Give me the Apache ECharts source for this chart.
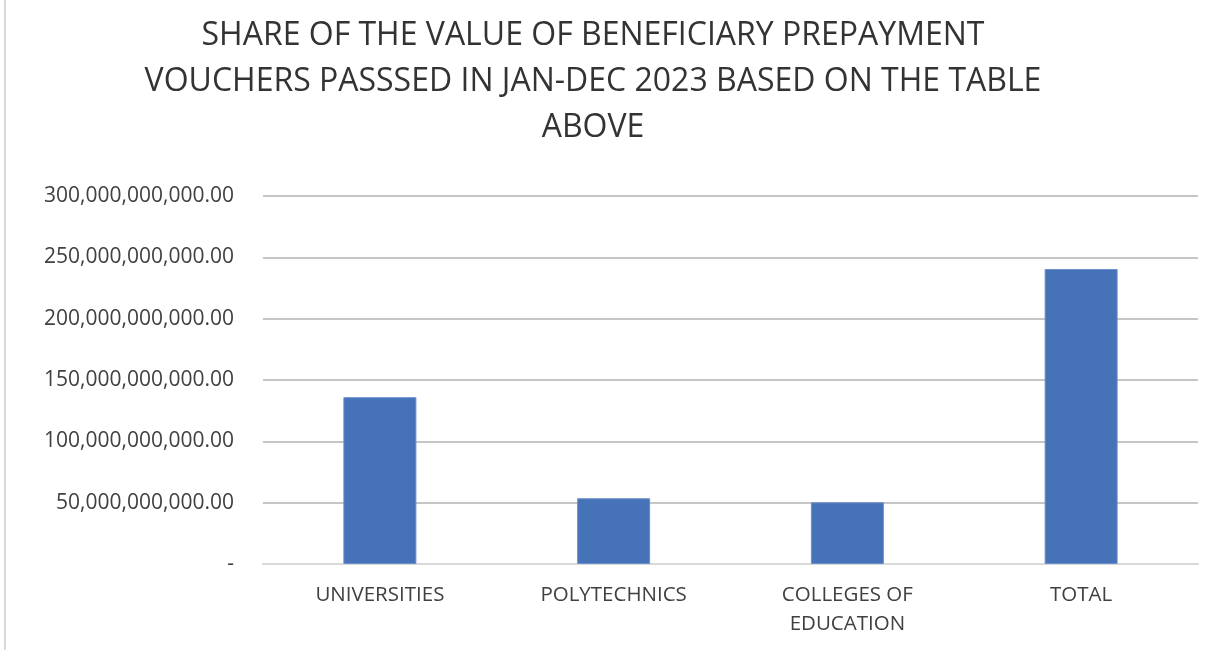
<!DOCTYPE html>
<html>
<head>
<meta charset="utf-8">
<script src="https://cdn.jsdelivr.net/npm/echarts@6/dist/echarts.min.js"></script>
<style>
  html, body { margin: 0; padding: 0; background: #fff; }
  #main { width: 1226px; height: 650px; }
</style>
</head>
<body>
<div id="main"></div>
<script>
 var titleLines = ['SHARE OF THE VALUE OF BENEFICIARY PREPAYMENT',
                   'VOUCHERS PASSSED IN JAN-DEC 2023 BASED ON THE TABLE',
                   'ABOVE'];
 var categories = ['UNIVERSITIES', 'POLYTECHNICS', 'COLLEGES OF\nEDUCATION', 'TOTAL'];
 var values = [136000000000, 53600000000, 50300000000, 240500000000];
 var yTicks = [0, 50000000000, 100000000000, 150000000000, 200000000000, 250000000000, 300000000000];

 // 1234567 -> "1,234,567.00", 0 -> "-"
 function fmt(v) {
     if (v === 0) return '-';
     var s = Math.round(v).toString();
     return s.replace(/\B(?=(\d{3})+(?!\d))/g, ',') + '.00';
 }

 var myChart = echarts.init(document.getElementById('main'), null, { renderer: 'canvas' });

 var option = {
     backgroundColor: '#ffffff',
     animation: false,
     graphic: [
         {
             type: 'text',
             x: 593,
             y: 13,
             style: {
                 text: titleLines.join('\n'),
                 font: '400 32px "Open Sans", sans-serif',
                 fill: '#333333',
                 align: 'center',
                 lineHeight: 46
             }
         },
         {
             type: 'line',
             shape: { x1: 5, y1: 0, x2: 5, y2: 650 },
             style: { stroke: '#d9d9d9', lineWidth: 2 }
         }
     ],
     grid: {
         left: 263,
         right: 28,
         top: 196,
         bottom: 86
     },
     xAxis: {
         type: 'category',
         data: categories,
         axisLine: { lineStyle: { color: '#d9d9d9', width: 2 } },
         axisTick: { show: false },
         axisLabel: {
             color: '#404040',
             fontSize: 20.5,
             fontFamily: 'Open Sans, sans-serif',
             margin: 17,
             lineHeight: 29
         }
     },
     yAxis: {
         type: 'value',
         min: 0,
         max: 300000000000,
         interval: 50000000000,
         axisLine: { show: false },
         axisTick: { show: false },
         splitLine: { lineStyle: { color: '#c6c6c6', width: 2 } },
         axisLabel: {
             color: '#404040',
             fontSize: 21,
             fontFamily: 'Open Sans, sans-serif',
             margin: 29,
             formatter: function (v) {
                 return yTicks.indexOf(v) >= 0 ? fmt(v) : '';
             }
         }
     },
     series: [
         {
             type: 'bar',
             data: values,
             barWidth: 73,
             itemStyle: {
                 color: '#4672b7',
                 borderColor: '#6b8fcb',
                 borderWidth: 1
             }
         }
     ]
 };

 myChart.setOption(option);
</script>
</body>
</html>
